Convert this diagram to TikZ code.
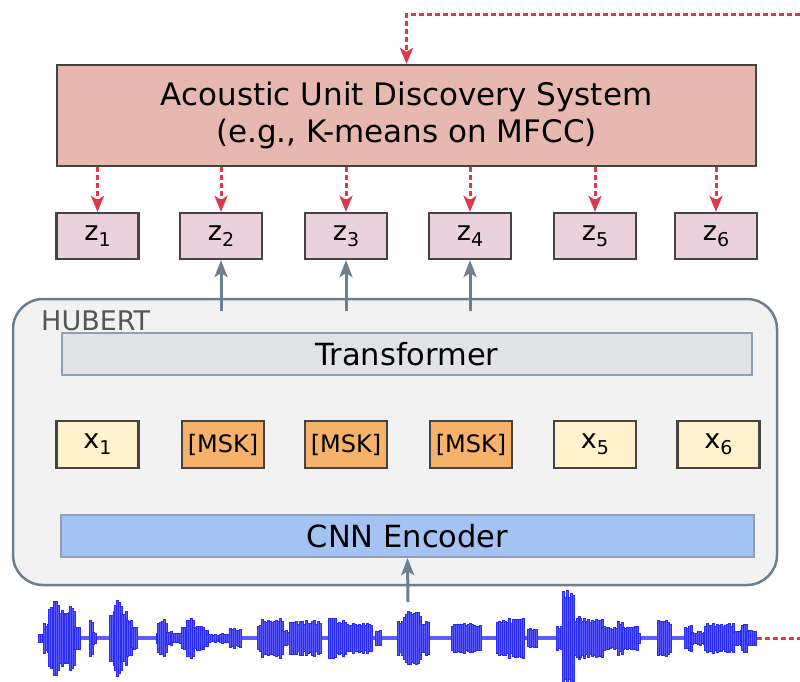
\documentclass[tikz,border=0pt]{standalone}
\usepackage{fontspec}
\setmainfont{DejaVu Sans}
\usetikzlibrary{arrows.meta}

\definecolor{adsfill}{HTML}{E6B8AF}
\definecolor{zfill}{HTML}{EAD1DC}
\definecolor{boxline}{HTML}{444444}
\definecolor{redline}{HTML}{E0384B}
\definecolor{slate}{HTML}{6B7F8F}
\definecolor{hubfill}{HTML}{F2F2F2}
\definecolor{hubline}{HTML}{6C7F91}
\definecolor{trfill}{HTML}{E1E3E6}
\definecolor{layerline}{HTML}{8EA0B3}
\definecolor{xfill}{HTML}{FFF2CC}
\definecolor{mskfill}{HTML}{F6B26B}
\definecolor{cnnfill}{HTML}{A4C2F4}
\definecolor{wavefill}{HTML}{5C5CFF}
\definecolor{waveedge}{HTML}{2A2AF5}
\definecolor{labelgray}{HTML}{555555}

\newcommand{\fs}[1]{\fontsize{#1}{#1}\selectfont}
\newcommand{\sub}[1]{{\fs{19}\raisebox{-6pt}{#1}}}

\begin{document}
\begin{tikzpicture}[x=1pt,y=-1pt,
  tokbox/.style={draw=boxline, line width=2.2pt, minimum width=82pt, minimum height=46pt, inner sep=0pt},
  zbox/.style={tokbox, fill=zfill, font=\fs{27}},
  xbox/.style={tokbox, fill=xfill, font=\fs{27}, minimum height=47pt},
  mskbox/.style={tokbox, fill=mskfill, font=\fs{24}, minimum height=47pt},
  layer/.style={draw=layerline, line width=2.2pt, inner sep=0pt, font=\fs{30.5}},
  redarrow/.style={draw=redline, line width=3pt, dash pattern=on 5pt off 3pt,
    -{Stealth[length=16pt,width=13pt,inset=4pt]}},
  reddash/.style={draw=redline, line width=3pt, dash pattern=on 5pt off 3pt},
  grayarrow/.style={draw=slate, line width=3pt, -{Stealth[length=17pt,width=13pt,inset=4pt]}},
  wavebar/.style={fill=wavefill, draw=waveedge, line width=0.3pt}
]
\useasboundingbox (0,0) rectangle (800,681);

% discovery system
\node[draw=boxline, line width=2.2pt, fill=adsfill, minimum width=699pt, minimum height=101pt,
      inner sep=0pt, align=center, font=\fontsize{31}{37}\selectfont]
  (ads) at (406.5,115.5) {Acoustic Unit Discovery System\\(e.g., K-means on MFCC)};

% target units
\foreach \n/\x in {1/97.5, 2/221, 3/346, 4/470, 5/595, 6/716}
  \node[zbox] (z\n) at (\x,236) {z\sub{\n}};

% HuBERT model
\node[draw=hubline, line width=2.5pt, fill=hubfill, rounded corners=30pt,
      minimum width=764pt, minimum height=286pt] (hubert) at (395,442) {};
\node[anchor=base west, inner sep=0pt, text=labelgray, font=\fs{27}] (hublabel) at (41,330) {HUBERT};

\node[layer, fill=trfill, minimum width=690pt, minimum height=42pt] (tr) at (407,354) {Transformer};
\node[layer, fill=cnnfill, minimum width=693pt, minimum height=42pt] (cnn) at (407.5,536) {CNN Encoder};

\node[xbox] (x1) at (97.5,444.5) {x\sub{1}};
\node[mskbox] (m2) at (223,444.5) {[MSK]};
\node[mskbox] (m3) at (346,444.5) {[MSK]};
\node[mskbox] (m4) at (471,444.5) {[MSK]};
\node[xbox] (x5) at (595,444.5) {x\sub{5}};
\node[xbox] (x6) at (718.5,444.5) {x\sub{6}};

% feedback from the waveform to the discovery system
\coordinate (fbtop) at (800,14);
\draw[redarrow] (fbtop) -| (ads.north);

% discovered units
\foreach \n in {1,...,6}
  \draw[redarrow] (z\n.north |- ads.south) -- (z\n.north);

% predictions for masked frames
\foreach \n in {2,3,4}
  \draw[grayarrow] ([yshift=-51pt]z\n.south) -- (z\n.south);

% waveform: quiet floor, then bursts of bars (start/end/amplitude)
\fill[wavefill] (40,636) rectangle (757,640);
\pgfmathsetseed{11}
\foreach \a/\b/\m in {39/43/4, 44/48/16, 49/53/36, 54/59/41, 60/64/30, 65/69/26, 70/74/34, 75/79/12,
    90/93/20, 93/96/6, 110/115/30, 115/122/40, 122/127/30, 127/132/22, 132/137/12,
    157/158/6, 158/167/19, 167/172/8, 172/182/5, 182/187/13, 187/193/22, 193/203/13, 203/207/10,
    207/220/4, 220/230/5, 230/240/10, 258/262/15, 262/282/20, 282/290/8, 290/320/18,
    329/345/20, 345/372/16, 376/380/8, 398/404/18, 404/420/28, 420/429/18,
    452/480/15, 497/523/20, 528/536/10,
    557/562/13, 563/573/48, 573/580/22, 580/602/21, 602/618/12, 618/623/18, 623/637/13,
    637/640/6, 658/670/18, 685/692/13, 692/705/7, 705/733/15, 733/742/8, 742/747/15, 747/756/8}{
  \pgfmathtruncatemacro\N{(\b-\a)/2}
  \foreach \i in {0,...,\N}{
    \pgfmathsetmacro\xx{\a+2*\i}
    \pgfmathsetmacro\hh{\m*(0.75+0.25*rnd)}
    \draw[wavebar] (\xx-0.9,638-\hh) rectangle (\xx+0.9,638+\hh);
  }
}
\coordinate (wavein) at (408,602);
\draw[grayarrow] (wavein) -- (cnn.south);

\coordinate (waveend) at (757,638);
\coordinate (fbbot) at (800,638);
\draw[reddash] (waveend) -- (fbbot);
\end{tikzpicture}
\end{document}
